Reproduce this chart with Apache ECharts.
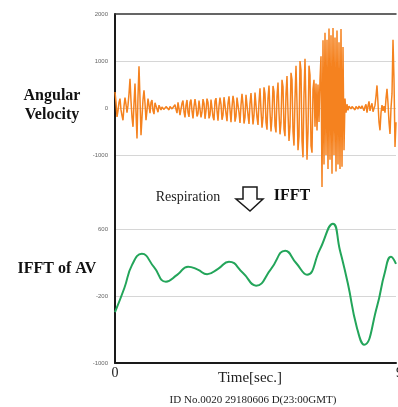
<!DOCTYPE html>
<html>
<head>
<meta charset="utf-8">
<style>
  html, body { margin: 0; padding: 0; background: #fff; }
  #chart { width: 398px; height: 407px; }
</style>
<script src="https://cdn.jsdelivr.net/npm/echarts@6/dist/echarts.min.js"></script>
</head>
<body>
<div id="chart"></div>
<script>
// angular velocity, one sample per pixel column of the reference (0..9 s)
const angularVelocity = [
  340, 120, -190, -60, 120, 200, -40, -160, -260, 40,
  220, 80, -100, 60, 300, 620, 150, -200, -400, 100,
  520, -100, -650, 250, 890, 200, -580, -200, 180, 375,
  100, -260, -50, 200, 60, -110, 120, 170, -60, -130,
  110, 150, -20, -90, 60, 40, -40, 20, 50, -30,
  -60, 30, 60, 0, -40, 30, 50, -20, -60, 20,
  70, -30, -110, 120, 150, -150, -190, 100, 160, -80,
  -200, 60, 170, -100, -190, 120, 180, -60, -220, 30,
  190, 40, -180, -120, 160, 150, -200, -80, 190, 100,
  -230, -60, 200, 120, -220, -150, 180, 160, -190, -260,
  150, 210, -60, -270, 40, 220, 80, -250, -150, 230,
  190, -120, -280, 100, 250, -40, -300, 20, 260, 120,
  -290, -180, 220, 260, -100, -320, 60, 300, 80, -330,
  -200, 280, 240, -150, -340, 100, 320, -20, -350, -150,
  330, 300, -200, -360, 130, 420, -50, -420, -200, 440,
  300, -300, -460, 200, 480, -80, -500, -200, 470, 350,
  -380, -520, 250, 540, -100, -560, -300, 600, 450, -450,
  -600, 300, 680, -100, -700, -400, 750, 600, -500, -800,
  200, 900, 100, -900, -600, 1000, 800, -700, -1050, 300,
  1050, 0, -1100, -500, 900, 700, -800, -950, 400, 600,
  -400, 520, -480, 500, -300, 600, 1100, -1680, 1440, -1200,
  1600, -1000, 1450, -1300, 1690, -1100, 1550, -1400, 1700, -1000,
  1500, -1350, 1650, -1200, 1400, -1300, 1680, -1250, 1300, -900,
  200, -100, 80, -50, 40, 80, -20, 30, 60, 10,
  -40, 30, 60, -20, 40, 70, -10, 50, 20, -60,
  30, 80, -100, 40, 140, -60, 30, 100, -80, -120,
  60, 250, 480, 100, -300, -475, -100, 60, -60, 40,
  -100, 200, 410, 100, -300, -550, 0, 300, 1450, 600,
  -830, -300
]
const sampleIndex = angularVelocity.map((v, i) => i)

// IFFT of the angular velocity (respiration band)
const ifftTime = [0, 0.3, 0.55, 0.86, 1.25, 1.63, 2.0, 2.34, 2.65, 2.95, 3.3, 3.65, 4.1, 4.52,
  5.0, 5.45, 5.8, 6.15, 6.56, 6.98, 7.2, 7.46, 7.74, 7.98, 8.39, 8.64, 8.84, 9.0]
const ifftValue = [-390, -100, 180, 310, 150, -25, 60, 156, 120, 66, 130, 216, 80, -72,
  130, 348, 200, 60, 360, 672, 360, -50, -564, -780, -324, 84, 276, 190]

const topTicks = { min: -2000, max: 2000, interval: 1000 }
const bottomTicks = { min: -1000, max: 1400, interval: 800 }
const timeTicks = { min: 0, max: 9, interval: 9 }

const chart = echarts.init(document.getElementById('chart'))

const axisBlack = { show: true, onZero: false, lineStyle: { color: '#1a1a1a', width: 2 } }
const smallLabel = {
  fontSize: 6, color: '#666', fontFamily: 'Liberation Sans', margin: 7,
  formatter: v => String(v)
}
const gridLine = { color: '#d6d6d6', width: 1 }
const serif = 'Liberation Serif'

const option = {
  animation: false,
  grid: [
    { left: 115, right: 2, top: 14, height: 188, outerBoundsMode: 'none' },
    { left: 115, right: 2, top: 163, height: 200, outerBoundsMode: 'none' }
  ],
  xAxis: [
    {
      gridIndex: 0,
      type: 'category',
      position: 'top',
      boundaryGap: false,
      data: sampleIndex,
      axisLine: { show: true, onZero: false, lineStyle: { color: '#333', width: 1.5 } },
      axisTick: { show: false },
      axisLabel: { show: false },
      splitLine: { show: false }
    },
    {
      gridIndex: 1,
      type: 'value',
      min: timeTicks.min,
      max: timeTicks.max,
      interval: timeTicks.interval,
      axisLine: axisBlack,
      axisTick: { show: false },
      axisLabel: { fontSize: 14, color: '#222', fontFamily: serif, margin: 3, alignMaxLabel: 'left' },
      splitLine: { show: false }
    }
  ],
  yAxis: [
    {
      gridIndex: 0,
      type: 'value',
      min: topTicks.min,
      max: topTicks.max,
      interval: topTicks.interval,
      axisLine: axisBlack,
      axisTick: { show: false },
      axisLabel: { ...smallLabel, showMinLabel: false },
      splitLine: { show: true, showMinLine: false, showMaxLine: false, lineStyle: gridLine }
    },
    {
      gridIndex: 1,
      type: 'value',
      min: bottomTicks.min,
      max: bottomTicks.max,
      interval: bottomTicks.interval,
      axisLine: axisBlack,
      axisTick: { show: false },
      axisLabel: { ...smallLabel, showMaxLabel: false },
      splitLine: { show: true, showMinLine: false, showMaxLine: false, lineStyle: gridLine }
    }
  ],
  series: [
    {
      name: 'Angular Velocity',
      type: 'line',
      xAxisIndex: 0,
      yAxisIndex: 0,
      data: angularVelocity,
      symbol: 'none',
      lineStyle: { color: '#f5821f', width: 1.5 },
      z: 3
    },
    {
      name: 'IFFT of AV',
      type: 'line',
      xAxisIndex: 1,
      yAxisIndex: 1,
      data: ifftTime.map((t, i) => [t, ifftValue[i]]),
      symbol: 'none',
      smooth: 0.5,
      lineStyle: { color: '#23a55a', width: 2 },
      z: 3
    }
  ],
  graphic: [
    {
      type: 'text', x: 52, y: 96,
      style: { text: 'Angular', font: 'bold 16px "Liberation Serif"', fill: '#111', align: 'center', verticalAlign: 'middle' }
    },
    {
      type: 'text', x: 52, y: 115,
      style: { text: 'Velocity', font: 'bold 16px "Liberation Serif"', fill: '#111', align: 'center', verticalAlign: 'middle' }
    },
    {
      type: 'text', x: 57, y: 269,
      style: { text: 'IFFT of AV', font: 'bold 16px "Liberation Serif"', fill: '#111', align: 'center', verticalAlign: 'middle' }
    },
    {
      type: 'text', x: 188, y: 197,
      style: { text: 'Respiration', font: '14px "Liberation Serif"', fill: '#222', align: 'center', verticalAlign: 'middle' }
    },
    {
      type: 'polygon',
      shape: { points: [[243, 187], [257, 187], [257, 199], [263, 199], [250, 211], [236, 199], [243, 199]] },
      style: { fill: '#fff', stroke: '#1a1a1a', lineWidth: 1.5 },
      z: 10
    },
    {
      type: 'text', x: 292, y: 196,
      style: { text: 'IFFT', font: 'bold 16px "Liberation Serif"', fill: '#111', align: 'center', verticalAlign: 'middle' }
    },
    {
      type: 'text', x: 250, y: 378,
      style: { text: 'Time[sec.]', font: '15px "Liberation Serif"', fill: '#222', align: 'center', verticalAlign: 'middle' }
    },
    {
      type: 'text', x: 253, y: 400,
      style: { text: 'ID No.0020 29180606 D(23:00GMT)', font: '11px "Liberation Serif"', fill: '#222', align: 'center', verticalAlign: 'middle' }
    }
  ]
}

chart.setOption(option)
</script>
</body>
</html>
